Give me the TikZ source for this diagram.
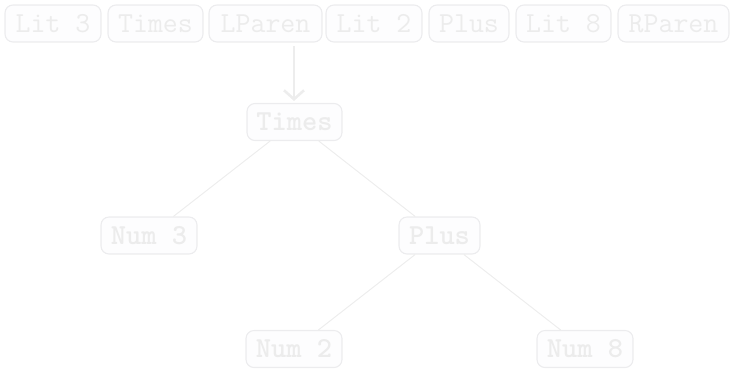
\documentclass[tikz,border=0pt]{standalone}
\usetikzlibrary{arrows.meta}
\definecolor{boxline}{HTML}{ECECEE}
\definecolor{boxfill}{HTML}{FDFDFE}
\definecolor{boxtext}{HTML}{ECECEC}
\definecolor{edgecol}{HTML}{EDEDED}
\begin{document}
\begin{tikzpicture}[x=1pt,y=-1pt,
  tok/.style={draw=boxline, fill=boxfill, line width=1.1pt, rounded corners=8pt,
    text=boxtext, inner sep=0pt, minimum height=37pt,
    font=\fontsize{29}{34}\selectfont\ttfamily},
  ast/.style={tok, font=\fontsize{29}{34}\selectfont\ttfamily\bfseries},
  edge/.style={draw=edgecol, line width=1pt},
  flow/.style={draw=edgecol, line width=2.6pt, -{Straight Barb[length=9pt,width=20pt,line width=2.6pt]}}]
  \useasboundingbox (0,0) rectangle (730,368);

  % token stream
  \node[tok, minimum width=96pt]  (t1) at (53,23.5)  {Lit 3};
  \node[tok, minimum width=95pt]  (t2) at (155.5,23.5) {Times};
  \node[tok, minimum width=113pt] (t3) at (265.5,23.5) {LParen};
  \node[tok, minimum width=96pt]  (t4) at (374,23.5) {Lit 2};
  \node[tok, minimum width=80pt]  (t5) at (469,23.5) {Plus};
  \node[tok, minimum width=95pt]  (t6) at (563.5,23.5) {Lit 8};
  \node[tok, minimum width=111pt] (t7) at (673.5,23.5) {RParen};

  % syntax tree
  \node[ast, minimum width=95pt] (times) at (294.5,122) {Times};
  \node[ast, minimum width=96pt] (n3)    at (149,235.5) {Num 3};
  \node[ast, minimum width=81pt] (plus)  at (439.5,235.5) {Plus};
  \node[ast, minimum width=96pt] (n2)    at (294,349) {Num 2};
  \node[ast, minimum width=96pt] (n8)    at (585,349) {Num 8};

  % parsing step
  \coordinate (from) at (294,46);
  \coordinate (to)   at (294,101);
  \draw[flow] (from) -- (to);

  \draw[edge] (times) -- (n3);
  \draw[edge] (times) -- (plus);
  \draw[edge] (plus) -- (n2);
  \draw[edge] (plus) -- (n8);
\end{tikzpicture}
\end{document}
